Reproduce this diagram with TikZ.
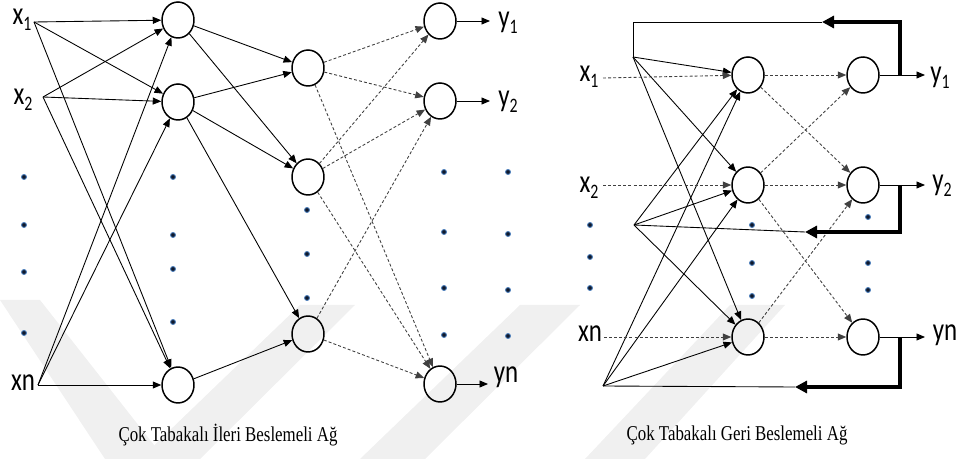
\documentclass[tikz,border=0pt]{standalone}
\usepackage{fontspec}
\usepackage{graphicx}
\usetikzlibrary{arrows.meta,shapes.geometric}
\setmainfont{Liberation Serif}
\newfontfamily\labfont{Carlito}
% tall narrow lettering for the signal names and captions
\newcommand\tallt[1]{\scalebox{1}[1.3]{#1}}
\newcommand\tallc[1]{\scalebox{1}[1.25]{#1}}
\newcommand\sub[1]{\raisebox{-0.18em}{\fontsize{9}{9}\selectfont #1}}

\tikzset{
  neuron/.style={draw, ellipse, minimum width=0.64cm, minimum height=0.72cm,
    inner sep=0pt, line width=0.85pt},
  link/.style={line width=0.5pt, -{Triangle[length=0.17cm,width=0.14cm]}},
  dlink/.style={link, black!75, dash pattern=on 1.7pt off 1.2pt},
  wire/.style={line width=0.5pt},
  fback/.style={line width=2.2pt, -{Triangle[length=0.24cm,width=0.24cm]}},
  lbl/.style={inner sep=0pt, font=\labfont\fontsize{14.2}{16}\selectfont},
  captext/.style={inner sep=0pt, font=\fontsize{9.6}{11}\selectfont},
  dotmark/.style={fill={rgb,255:red,15;green,25;blue,45},
    draw={rgb,255:red,80;green,130;blue,190}, line width=0.5pt},
  band/.style={fill=black!6, draw=none},
}

\begin{document}
\begin{tikzpicture}[x=0.02cm, y=-0.02cm]
\useasboundingbox (0,0) rectangle (964,459);

% faint diagonal background bands
\fill[band] (0,300) -- (40,300) -- (165,459) -- (105,459) -- cycle;
\fill[band] (140,459) -- (200,459) -- (355,305) -- (300,305) -- cycle;
\fill[band] (360,459) -- (425,459) -- (580,305) -- (520,305) -- cycle;
\fill[band] (585,459) -- (645,459) -- (785,305) -- (730,305) -- cycle;

% ---------------- feed-forward network ----------------
\node[lbl] (lx1) at (22,20)  {\tallt{x\sub{1}}};
\node[lbl] (lx2) at (23,100) {\tallt{x\sub{2}}};
\node[lbl] (lxn) at (23,383) {\tallt{xn}};
\coordinate (p1) at (34,22);
\coordinate (p2) at (43,97);
\coordinate (pn) at (38,385);

\node[neuron] (h1) at (178,20) {};
\node[neuron] (h2) at (178,102) {};
\node[neuron] (h3) at (178,385) {};
\node[neuron] (m1) at (308,68) {};
\node[neuron] (m2) at (308,177) {};
\node[neuron] (m3) at (308,334) {};
\node[neuron] (o1) at (440,21) {};
\node[neuron] (o2) at (440,101) {};
\node[neuron] (o3) at (440,384) {};

\foreach \s in {p1,p2,pn}
  \foreach \t in {h1,h2,h3}
    \draw[link] (\s) -- (\t);

\draw[link] (h1) -- (m1);
\draw[link] (h1) -- (m2);
\draw[link] (h2) -- (m1);
\draw[link] (h2) -- (m2);
\draw[link] (h2) -- (m3);
\draw[link] (h3) -- (m3);

\draw[dlink] (m1) -- (o1);
\draw[dlink] (m1) -- (o2);
\draw[dlink] (m1) -- (o3);
\draw[dlink] (m2) -- (o1);
\draw[dlink] (m2) -- (o2);
\draw[dlink] (m2) -- (o3);
\draw[dlink] (m3) -- (o2);
\draw[dlink] (m3) -- (o3);

\coordinate (e1) at (490,21);
\coordinate (e2) at (490,101);
\coordinate (en) at (488,384);
\draw[link] (o1) -- (e1);
\draw[link] (o2) -- (e2);
\draw[link] (o3) -- (en);
\node[lbl] (ly1) at (508,23)  {\tallt{y\sub{1}}};
\node[lbl] (ly2) at (508,102) {\tallt{y\sub{2}}};
\node[lbl] (lyn) at (506,377) {\tallt{yn}};

\foreach \y in {177,225,272,333} \draw[dotmark] (24,\y) circle (0.05cm);
\foreach \y in {177,235,269,322} \draw[dotmark] (173,\y) circle (0.05cm);
\foreach \y in {210,254,298}     \draw[dotmark] (307,\y) circle (0.05cm);
\foreach \y in {172,232,288,335} \draw[dotmark] (444,\y) circle (0.05cm);
\foreach \y in {172,234,290,336} \draw[dotmark] (508,\y) circle (0.05cm);

\node[captext] (capl) at (228,435) {\tallc{Çok Tabakalı İleri Beslemeli Ağ}};

% ---------------- recurrent network ----------------
\node[lbl] (rx1) at (589,77)  {\tallt{x\sub{1}}};
\node[lbl] (rx2) at (589,188) {\tallt{x\sub{2}}};
\node[lbl] (rxn) at (590,334) {\tallt{xn}};
\coordinate (q1) at (603,78);
\coordinate (q2) at (603,185);
\coordinate (qn) at (604,337);

\node[neuron] (R1) at (748,75) {};
\node[neuron] (R2) at (748,185) {};
\node[neuron] (R3) at (748,337) {};
\node[neuron] (S1) at (863,75) {};
\node[neuron] (S2) at (863,185) {};
\node[neuron] (S3) at (863,337) {};

% fan-in points of the fed-back signals
\coordinate (A)  at (633,57);
\coordinate (At) at (633,22);
\coordinate (B)  at (634,225);
\coordinate (C)  at (603,386);

\foreach \s in {A,B,C}
  \foreach \t in {R1,R2,R3}
    \draw[link] (\s) -- (\t);

\draw[dlink] (q1) -- (R1);
\draw[dlink] (q2) -- (R2);
\draw[dlink] (qn) -- (R3);

\draw[dlink] (R1) -- (S1);
\draw[dlink] (R1) -- (S2);
\draw[dlink] (R2) -- (S1);
\draw[dlink] (R2) -- (S2);
\draw[dlink] (R2) -- (S3);
\draw[dlink] (R3) -- (S2);
\draw[dlink] (R3) -- (S3);

\coordinate (f1) at (925,75);
\coordinate (f2) at (925,185);
\coordinate (fn) at (925,337);
\draw[link] (S1) -- (f1);
\draw[link] (S2) -- (f2);
\draw[link] (S3) -- (fn);
\node[lbl] (ry1) at (940,78)  {\tallt{y\sub{1}}};
\node[lbl] (ry2) at (942,186) {\tallt{y\sub{2}}};
\node[lbl] (ryn) at (945,335) {\tallt{yn}};

% feedback loops
\coordinate (j1) at (900,75);
\coordinate (j2) at (900,185);
\coordinate (j3) at (900,337);
\coordinate (t1) at (822,22);
\coordinate (t2) at (805,232);
\coordinate (t3) at (795,387);
\draw[fback] (j1) |- (t1);
\draw[fback] (j2) |- (t2);
\draw[fback] (j3) |- (t3);
\draw[wire] (t1) -- (At) -- (A);
\draw[wire] (t2) -- (B);
\draw[wire] (t3) -- (C);

\foreach \y in {225,257,288} \draw[dotmark] (590,\y) circle (0.05cm);
\foreach \y in {225,263,296} \draw[dotmark] (752,\y) circle (0.05cm);
\foreach \y in {217,263,290} \draw[dotmark] (868,\y) circle (0.05cm);

\node[captext] (capr) at (737,435) {\tallc{Çok Tabakalı Geri Beslemeli Ağ}};
\end{tikzpicture}
\end{document}
